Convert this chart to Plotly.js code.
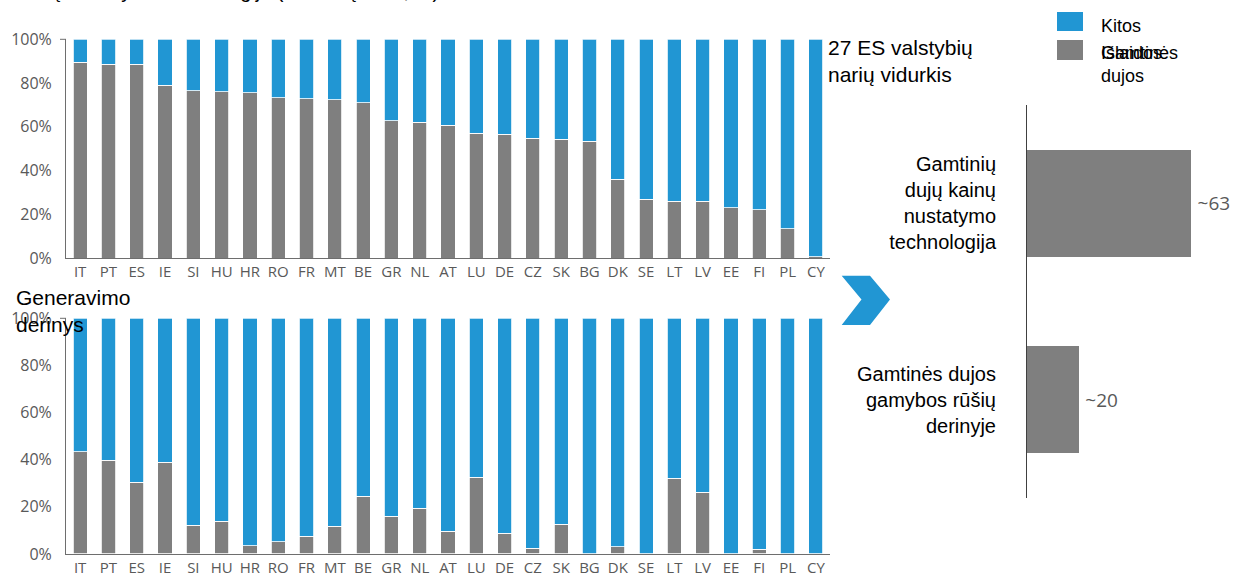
<!DOCTYPE html>
<html>
<head>
<meta charset="utf-8">
<script src="https://cdn.plot.ly/plotly-3.0.1.min.js"></script>
<style>html,body{margin:0;padding:0;background:#fff;}#chart{width:1236px;height:577px;}</style>
</head>
<body>
<div id="chart"></div>
<script>
// ---------- data ----------
const countries = ['IT','PT','ES','IE','SI','HU','HR','RO','FR','MT','BE','GR','NL','AT','LU','DE','CZ','SK','BG','DK','SE','LT','LV','EE','FI','PL','CY'];
// top panel: price-setting technology (share of hours)
const priceGas   = [89.5,88.6,88.6,79,76.5,76,75.6,73.3,72.8,72.3,71.1,62.8,62,60.8,57.1,56.5,54.8,54.3,53.4,35.9,26.9,26,26,22.9,22,13.3,0.5];
const priceOther = [10.5,11.4,11.4,21,23.5,24,24.4,26.7,27.2,27.7,28.9,37.2,38,39.2,42.9,43.5,45.2,45.7,46.6,64.1,73.1,74,74,77.1,78,86.7,99.5];
// bottom panel: generation mix
const genGas   = [43.4,39.8,30.4,38.9,12.2,13.9,3.4,5.1,7.6,11.7,24.6,16,19.4,9.6,32.5,8.8,2.5,12.6,0,3,0,32.1,26.3,0,2.1,0,0];
const genOther = [56.6,60.2,69.6,61.1,87.8,86.1,96.6,94.9,92.4,88.3,75.4,84,80.6,90.4,67.5,91.2,97.5,87.4,100,97,100,67.9,73.7,100,97.9,100,100];
// right panel: EU-27 average
const avgLabels = ['Gamtinių<br>dujų kainų<br>nustatymo<br>technologija', 'Gamtinės dujos<br>gamybos rūšių<br>derinyje'];
const avgValues = [63, 20];
const yTickVals = [0,20,40,60,80,100];
const yTickText = ['0%','20%','40%','60%','80%','100%'];

// ---------- style ----------
const W = 1236, H = 577;
const BLUE = '#2196D3', GREY = '#7F7F7F', TXT = '#595959', AX = '#6E6E6E';
const px = x => x / W, py = y => 1 - y / H;
const yTickFont = {family: 'Open Sans, Segoe UI, sans-serif', size: 16, color: TXT};
const xTickFont = {family: 'Open Sans, Segoe UI, sans-serif', size: 15, color: TXT};
const arial = 'Liberation Sans, Arial, sans-serif';

function stackPair(gas, other, xa, ya) {
  return [
    {type:'bar', x:countries, y:gas, xaxis:xa, yaxis:ya, name:'Gamtinės dujos',
     marker:{color:GREY, line:{color:'#ffffff', width:0.8}}, width:0.5, hoverinfo:'x+y'},
    {type:'bar', x:countries, y:other, xaxis:xa, yaxis:ya, name:'Kitos',
     marker:{color:BLUE, line:{color:'#ffffff', width:0.8}}, width:0.5, hoverinfo:'x+y'}
  ];
}

const data = [
  ...stackPair(priceGas, priceOther, 'x', 'y'),
  ...stackPair(genGas, genOther, 'x2', 'y2'),
  {type:'bar', orientation:'h', x:avgValues, y:avgLabels, xaxis:'x3', yaxis:'y3',
   marker:{color:GREY}, width:0.545, texttemplate:'\u2009~%{x}', textposition:'outside',
   cliponaxis:false, textfont:{family:'Open Sans, Segoe UI, sans-serif', size:19, color:TXT}}
];

const xDom = [px(66), px(830)];
const catAxis = (anchor) => ({domain:xDom, anchor:anchor, type:'category', range:[-0.5,26.5],
  showline:true, linecolor:AX, linewidth:1, ticks:'', tickfont:xTickFont, showgrid:false, zeroline:false, fixedrange:true});
const pctAxis = (anchor, dom) => ({domain:dom, anchor:anchor, range:[0,100], tickmode:'array',
  tickvals:yTickVals, ticktext:yTickText,
  showline:true, linecolor:AX, linewidth:1, ticks:'', tickfont:yTickFont, showgrid:false, zeroline:false,
  ticklabelstandoff:10, fixedrange:true});

// chevron arrow (decoration)
const chev = [[841.7,275.7],[870,275.7],[890,299.5],[870,325],[841.7,325],[861.5,299.5]];
const chevPath = 'M ' + chev.map(p => px(p[0]) + ',' + py(p[1])).join(' L ') + ' Z';

const layout = {
  width:W, height:H, margin:{l:0,r:0,t:0,b:0}, paper_bgcolor:'#fff', plot_bgcolor:'rgba(0,0,0,0)',
  barmode:'stack', showlegend:false,
  xaxis: catAxis('y'),
  yaxis: pctAxis('x', [py(258), py(39.3)]),
  xaxis2: catAxis('y2'),
  yaxis2: pctAxis('x2', [py(554), py(318.3)]),
  xaxis3: {domain:[px(1027), px(1027 + 80*2.61)], anchor:'y3', range:[0,80], visible:false, fixedrange:true},
  yaxis3: {domain:[py(498), py(105)], anchor:'x3', type:'category', range:[1.5,-0.5],
    showline:true, linecolor:'#404040', linewidth:1, ticks:'', showgrid:false, zeroline:false,
    tickfont:{family:arial, size:20, color:'#000'}, ticklabelstandoff:26, fixedrange:true},
  shapes: [
    {type:'path', path:chevPath, xref:'paper', yref:'paper', fillcolor:BLUE, line:{width:0}},
    // legend swatches
    {type:'rect', xref:'paper', yref:'paper', x0:px(1057), x1:px(1083), y0:py(31), y1:py(12), fillcolor:BLUE, line:{width:0}},
    {type:'rect', xref:'paper', yref:'paper', x0:px(1057), x1:px(1083), y0:py(60), y1:py(40), fillcolor:GREY, line:{width:0}},
    // small top ticks on the percentage axes
    {type:'line', xref:'paper', yref:'paper', x0:px(60), x1:px(66), y0:py(39.3), y1:py(39.3), line:{color:AX, width:1}},
    {type:'line', xref:'paper', yref:'paper', x0:px(60), x1:px(66), y0:py(318.3), y1:py(318.3), line:{color:AX, width:1}}
  ],
  annotations: [
    {text:'Kainų nustatymo technologija (ES šalių dalis, %)', xref:'paper', yref:'paper', x:px(8), y:1,
     xanchor:'left', yanchor:'bottom', yshift:-4, showarrow:false, font:{family:arial, size:20, color:'#000'}},
    {text:'27 ES valstybių<br>narių vidurkis', xref:'paper', yref:'paper', x:px(826), y:py(34),
     xanchor:'left', yanchor:'top', align:'left', showarrow:false, font:{family:arial, size:21, color:'#000'}},
    {text:'Generavimo<br>derinys', xref:'paper', yref:'paper', x:px(14), y:py(284),
     xanchor:'left', yanchor:'top', align:'left', showarrow:false, font:{family:arial, size:21, color:'#000'}},
    {text:'Kitos', xref:'paper', yref:'paper', x:px(1099), y:py(26),
     xanchor:'left', yanchor:'middle', align:'left', showarrow:false, font:{family:arial, size:18, color:'#000'}},
    {text:'Gamtinės<br>dujos', xref:'paper', yref:'paper', x:px(1099), y:py(41),
     xanchor:'left', yanchor:'top', align:'left', showarrow:false, font:{family:arial, size:18, color:'#000'}},
    {text:'Išlaidos', xref:'paper', yref:'paper', x:px(1099), y:py(41),
     xanchor:'left', yanchor:'top', align:'left', showarrow:false, font:{family:arial, size:18, color:'#000'}}
  ]
};

Plotly.newPlot('chart', data, layout, {displayModeBar:false, staticPlot:true});
</script>
</body>
</html>
